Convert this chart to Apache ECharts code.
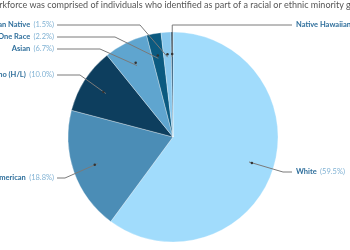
<!DOCTYPE html>
<html><head><meta charset="utf-8">
<script src="https://cdn.jsdelivr.net/npm/echarts@6/dist/echarts.min.js"></script>
<style>html,body{margin:0;padding:0;background:#fff}#c{width:350px;height:250px}</style>
</head><body><div id="c"></div>
<script>
const categories = ['White','Black/African American','Hispanic or Latino (H/L)','Asian','More Than One Race','American Indian/Alaskan Native','Native Hawaiian/Pacific Islander'];
const values = [59.5, 18.8, 10.0, 6.7, 2.2, 1.5, 0.3];
const titleText = '40.5% of the workforce was comprised of individuals who identified as part of a racial or ethnic minority group.';

const colors = ['#a1dcfc','#4b8db6','#0d3e5e','#5fa5cf','#0b5a80','#88c8ee','#1d4c6c'];
const labelY = [172, 178, 75, 49, 37, 25, 25];
const elbowX = [283, 65, 80, 100, 115, 140, null];
const leftLabelX = 54, rightLabelX = 296;
const CX = 173, CY = 137;

const data = categories.map((n, i) => ({name: n, value: values[i]}));
const chart = echarts.init(document.getElementById('c'), null, {renderer: 'canvas'});
chart.setOption({
  animation: false,
  title: {
    text: titleText, left: -66, top: 1, padding: 0,
    textStyle: {fontFamily: 'Lato', fontWeight: 'normal', fontSize: 9, color: '#555'}
  },
  series: [
    {
      type: 'pie', center: [CX, CY], radius: 105, startAngle: 90, clockwise: true,
      silent: true, z: 1,
      data: data.map((d, i) => ({...d, itemStyle: {color: colors[i]}})),
      itemStyle: {borderColor: 'rgba(255,255,255,0.6)', borderWidth: 0.5},
      label: {show: false}, labelLine: {show: false}
    },
    {
      type: 'pie', center: [CX, CY], radius: [0, 160], startAngle: 90, clockwise: true,
      silent: true, z: 3,
      data: data,
      itemStyle: {color: 'rgba(0,0,0,0)'},
      label: {show: true, position: 'inner', formatter: '{d|}',
        rich: {d: {width: 2.5, height: 2.5, borderRadius: 1.25, backgroundColor: '#333'}}},
      labelLine: {show: false}
    },
    {
      type: 'pie', center: [CX, CY], radius: 80, startAngle: 90, clockwise: true,
      silent: true, z: 2, avoidLabelOverlap: false,
      data: data,
      itemStyle: {color: 'rgba(0,0,0,0)'},
      label: {
        show: true, position: 'outside',
        formatter: p => '{n|' + p.name + '} {v|(' + p.value.toFixed(1) + '%)}',
        rich: {
          n: {fontFamily: 'Lato', fontWeight: 'bold', fontSize: 7.5, color: '#2f6f9c'},
          v: {fontFamily: 'Lato', fontWeight: 'normal', fontSize: 7.5, color: '#80b2d4'}
        }
      },
      labelLine: {show: true, length: 10, length2: 10, lineStyle: {color: '#7a7a7a', width: 1}},
      labelLayout: function (p) {
        const i = p.dataIndex;
        const start = p.labelLinePoints ? p.labelLinePoints[0] : [CX, CY];
        const y = labelY[i];
        const isRight = (i === 0 || i === 6);
        const lx = isRight ? rightLabelX : leftLabelX;
        const ex = elbowX[i] === null ? start[0] : elbowX[i];
        const endX = isRight ? lx - 4 : lx + 3;
        return {
          x: lx, y: y, align: isRight ? 'left' : 'right', verticalAlign: 'middle',
          labelLinePoints: [start, [ex, y], [endX, y]]
        };
      }
    }
  ]
});
</script></body></html>
